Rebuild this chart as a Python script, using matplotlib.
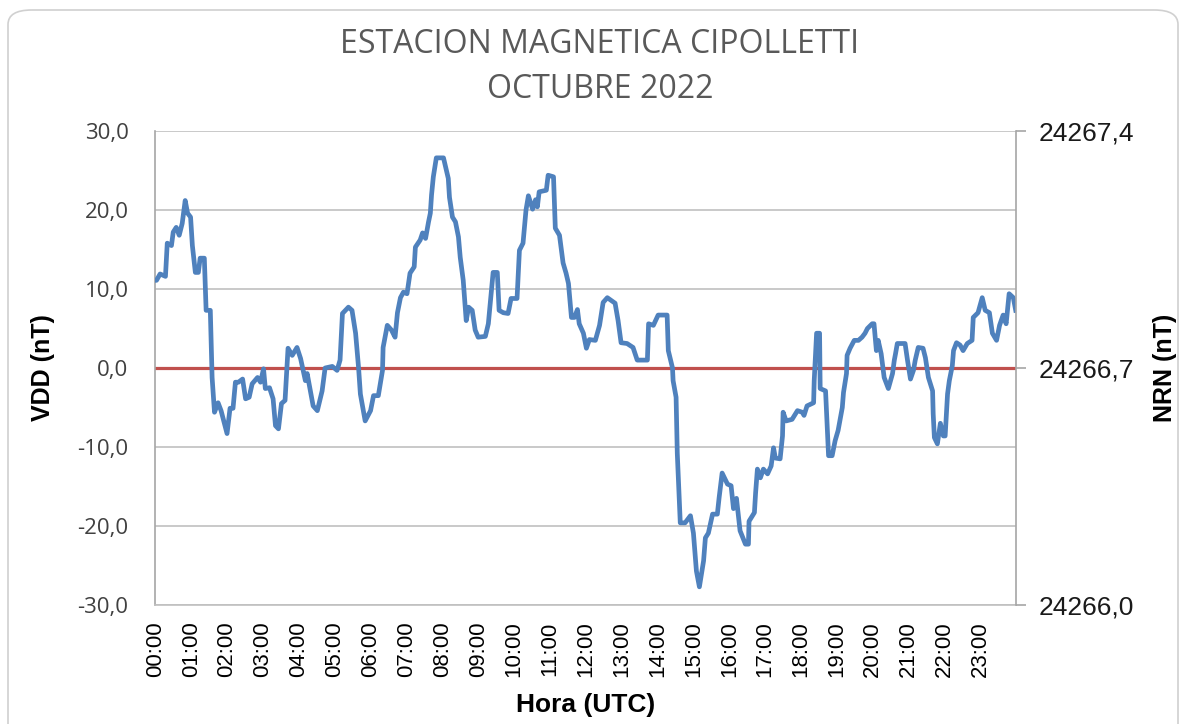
import matplotlib
matplotlib.use("Agg")
import matplotlib.pyplot as plt
from matplotlib.patches import FancyBboxPatch

# ---- data (minute of day, VDD in nT) ----
minutes = [0, 2, 8, 17, 20, 27, 30, 35, 40, 45, 50, 54, 59, 62, 67, 72, 75, 82, 85, 92,
           95, 99, 105, 110, 120, 125, 130, 134, 139, 146, 151, 157, 162, 171, 176, 181,
           184, 191, 197, 201, 206, 211, 217, 222, 229, 237, 243, 251, 254, 264, 271, 279,
           284, 296, 304, 309, 313, 323, 329, 335, 340, 343, 351, 360, 365, 373, 380, 381,
           388, 395, 401, 405, 410, 415, 421, 426, 433, 435, 443, 447, 452, 457, 460, 462,
           465, 470, 482, 490, 492, 497, 502, 507, 510, 515, 520, 524, 530, 535, 540, 552,
           557, 565, 572, 575, 582, 590, 595, 605, 609, 615, 620, 624, 631, 636, 639, 642,
           654, 657, 666, 669, 676, 682, 687, 691, 696, 701, 706, 709, 716, 721, 726, 736,
           743, 749, 756, 769, 774, 779, 789, 799, 806, 823, 825, 833, 841, 856, 858, 865,
           866, 871, 873, 878, 886, 895, 900, 905, 910, 917, 920, 925, 932, 940, 943, 948,
           957, 963, 967, 972, 978, 987, 992, 993, 1002, 1004, 1007, 1012, 1017, 1024, 1030,
           1034, 1037, 1045, 1049, 1050, 1055, 1065, 1074, 1082, 1085, 1090, 1101, 1102,
           1106, 1111, 1112, 1121, 1124, 1126, 1132, 1137, 1142, 1149, 1151, 1156, 1157,
           1162, 1169, 1176, 1182, 1187, 1191, 1199, 1202, 1206, 1209, 1214, 1217, 1219,
           1226, 1233, 1236, 1238, 1241, 1254, 1258, 1263, 1268, 1271, 1276, 1284, 1288,
           1293, 1300, 1301, 1303, 1308, 1313, 1318, 1321, 1325, 1328, 1333, 1335, 1340,
           1346, 1351, 1358, 1366, 1368, 1376, 1383, 1388, 1395, 1400, 1407, 1412, 1418,
           1423, 1428, 1435, 1439]
vdd = [11.1, 11.1, 11.9, 11.6, 15.8, 15.5, 17.2, 17.8, 16.8, 18.3, 21.2, 19.6, 19.1, 15.5,
       12.1, 12.1, 13.9, 13.9, 7.3, 7.3,
       -1.2, -5.6, -4.4, -5.4, -8.3, -5.1, -5.1, -1.8, -1.8, -1.4, -3.9, -3.7, -2.0, -1.2,
       -1.8, -0.1, -2.6, -2.5, -3.9, -7.3, -7.7, -4.5, -4.1, 2.5, 1.6, 2.6, 1.2, -1.6, -0.7,
       -4.8, -5.4, -2.9, 0.0, 0.2, -0.3, 1.0, 6.9, 7.7, 7.3, 4.4, 0.0, -3.3, -6.7, -5.4,
       -3.5, -3.5, -0.3, 2.6, 5.4, 4.8, 3.9, 7.0, 8.9, 9.6, 9.4, 12.0, 12.8, 15.3, 16.2,
       17.1, 16.4, 18.5, 19.6, 21.9, 24.2, 26.6, 26.6, 24.0, 21.6, 19.1, 18.5, 16.6, 14.0,
       11.1, 6.0, 7.7, 7.3, 4.8, 3.9, 4.0, 5.6, 12.1, 12.1, 7.3, 7.0, 6.9, 8.8, 8.8, 14.9,
       15.8, 20.0, 21.8, 20.1, 21.3, 20.4, 22.3, 22.5, 24.4, 24.2, 17.7, 16.8, 13.3, 12.0,
       10.7, 6.4, 6.4, 7.4, 5.6, 4.4, 2.5, 3.6, 3.5, 5.4, 8.3, 8.9, 8.2, 6.0, 3.2, 3.1, 2.6,
       1.0, 1.0, 5.6, 5.4, 6.7, 6.7, 2.2, 0.0, -1.6, -3.7, -10.8, -19.6, -19.6, -18.7,
       -20.9, -25.7, -27.7, -24.4, -21.5, -20.9, -18.5, -18.5, -16.4, -13.3, -14.7, -14.9,
       -17.8, -16.5, -20.6, -22.3, -22.3, -19.4, -18.3, -15.8, -12.8, -13.9, -12.8, -13.4,
       -12.4, -10.1, -11.4, -11.5, -8.6, -5.6, -6.7, -6.5, -5.4, -5.6, -6.0, -4.8, -4.4,
       -1.6, 4.4, 4.4, -2.6, -2.9, -7.9, -11.1, -11.1, -9.2, -7.9, -5.0, -3.1, -0.7, 1.6,
       2.5, 3.5, 3.5, 3.9, 4.4, 5.0, 5.6, 5.6, 2.2, 3.5, 1.8, 0.0, -1.2, -2.6, -0.7, 1.0,
       1.8, 3.1, 3.1, 1.0, -1.4, -0.3, 1.0, 2.6, 2.5, 1.3, -1.2, -2.9, -5.8, -8.8, -9.6,
       -7.0, -8.6, -8.6, -3.3, -1.6, 0.3, 2.2, 3.2, 2.9, 2.2, 3.1, 3.5, 6.4, 7.0, 8.9, 7.3,
       7.0, 4.4, 3.5, 5.4, 6.7, 5.6, 9.4, 8.9, 7.3]

hour_labels = ["%02d:00" % h for h in range(24)]
left_ticks = [-30, -20, -10, 0, 10, 20, 30]
left_tick_labels = ["-30,0", "-20,0", "-10,0", "0,0", "10,0", "20,0", "30,0"]
right_ticks = [24266.0, 24266.7, 24267.4]
right_tick_labels = ["24266,0", "24266,7", "24267,4"]
title = "ESTACION MAGNETICA CIPOLLETTI\nOCTUBRE 2022"

W, H = 1186, 724
fig = plt.figure(figsize=(W / 100, H / 100), dpi=100)
fig.patch.set_facecolor("white")

# rounded chart border
border = FancyBboxPatch((8 / W, -20 / H), (1170) / W, (734) / H,
                        boxstyle="round,pad=0,rounding_size=0.02",
                        transform=fig.transFigure, facecolor="none",
                        edgecolor="#d0d0d0", linewidth=1.2, zorder=0)
fig.patches.append(border)

ax = fig.add_axes([155 / W, 1 - 605 / H, (1016 - 155) / W, (605 - 131) / H])
ax.set_facecolor("none")

ax.plot(minutes, vdd, color="#4f81bd", linewidth=3.4, solid_joinstyle="round", zorder=3)
ax.axhline(0, color="#c0504d", linewidth=2.3, zorder=2)

ax.set_xlim(-0.5, 1439.5)
ax.set_ylim(-30, 30)
ax.set_yticks(left_ticks)
ax.set_yticklabels(left_tick_labels, fontfamily="Open Sans", fontsize=16, color="#404040")
ax.set_xticks([h * 60 for h in range(24)])
ax.set_xticklabels(hour_labels, rotation=90, fontfamily="Liberation Sans", fontsize=16,
                   color="black")
ax.tick_params(axis="y", length=0, pad=19)
ax.tick_params(axis="x", length=0, pad=12)
ax.grid(axis="y", color="#c0c0c0", linewidth=1.2)
for s in ["top", "right"]:
    ax.spines[s].set_visible(False)
ax.spines["left"].set_color("#a6a6a6")
ax.spines["bottom"].set_color("#c0c0c0")
ax.spines["left"].set_linewidth(1.2)
ax.spines["bottom"].set_linewidth(1.2)

ax.set_ylabel("VDD (nT)", fontfamily="Liberation Sans", fontweight="bold", fontsize=18,
              labelpad=16)
ax.set_xlabel("Hora (UTC)", fontfamily="Liberation Sans", fontweight="bold", fontsize=19,
              labelpad=11)

ax2 = ax.twinx()
ax2.set_ylim(24266.0, 24267.4)
ax2.set_yticks(right_ticks)
ax2.set_yticklabels(right_tick_labels, fontfamily="Liberation Sans", fontsize=19,
                    color="#1a1a1a")
ax2.tick_params(axis="y", length=7, color="#a6a6a6", width=1.2, direction="out", pad=9)
for s in ["top", "left", "bottom"]:
    ax2.spines[s].set_visible(False)
ax2.spines["right"].set_color("#a6a6a6")
ax2.spines["right"].set_linewidth(1.2)
ax2.set_ylabel("NRN (nT)", fontfamily="Liberation Sans", fontweight="bold", fontsize=18,
               labelpad=14)

fig.text(600 / W, 1 - 67 / H, title, ha="center", va="center", fontfamily="Open Sans",
         fontsize=23, color="#595959", linespacing=1.45)

fig.savefig("out.png", dpi=100)
